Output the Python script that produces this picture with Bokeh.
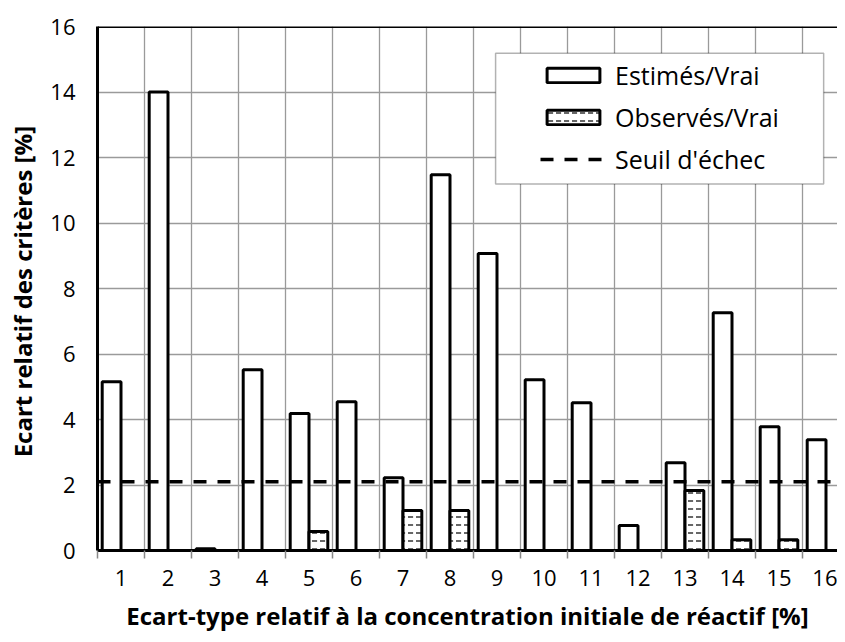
from bokeh.plotting import figure
from bokeh.models import (Range1d, FixedTicker, Legend, LegendItem, BoxAnnotation,
                          Span, ColumnDataSource)
from bokeh.embed import file_html
from bokeh.resources import INLINE

# ---- data ----
categories = list(range(1, 17))
tick_labels = [str(c) for c in categories]
estimes = [5.15, 14.0, 0.05, 5.52, 4.18, 4.54, 2.22, 11.47, 9.07, 5.21, 4.51, 0.76, 2.68, 7.26, 3.78, 3.38]
observes = [0, 0, 0, 0, 0.58, 0, 1.22, 1.22, 0, 0, 0, 0, 1.83, 0.33, 0.33, 0]
seuil = 2.1
series_names = ["Estimés/Vrai", "Observés/Vrai", "Seuil d'échec"]
x_title = "Ecart-type relatif à la concentration initiale de réactif [%]"
y_title = "Ecart relatif des critères  [%]"

FONT = "Open Sans"
W, H = 837, 634
LEFT, TOP, BOTTOM = 97, 26, 83
px_per_cat = 47.0
x_start = categories[0] - 0.5
x_end = x_start + (W - LEFT) / px_per_cat

p = figure(width=W, height=H, output_backend="svg", toolbar_location=None,
           x_range=Range1d(x_start, x_end), y_range=Range1d(0, 16),
           min_border_left=LEFT, min_border_top=TOP, min_border_bottom=BOTTOM,
           min_border_right=0)
p.outline_line_color = None
p.background_fill_color = "white"

off = 0.2
bw = 0.4
src_e = ColumnDataSource(dict(x=[c - off for c in categories], top=estimes))
src_o = ColumnDataSource(dict(x=[c + off for c in categories], top=observes))

r_e = p.vbar(x="x", top="top", width=bw, source=src_e, fill_color="white",
             line_color="black", line_width=3)
r_o = p.vbar(x="x", top="top", width=bw, source=src_o, fill_color="white",
             line_color="black", line_width=3, hatch_pattern="horizontal_dash",
             hatch_color="black", hatch_scale=8, hatch_weight=1.2)
r_s = p.line(x=[x_start, categories[-1] + 0.5], y=[seuil, seuil], line_color="black",
             line_width=3.5, line_dash="13 11")

# axes
boundaries = [c - 0.5 for c in categories] + [categories[-1] + 0.5]
p.xaxis.ticker = FixedTicker(ticks=categories, minor_ticks=boundaries)
p.xaxis.major_label_overrides = {c: l for c, l in zip(categories, tick_labels)}
p.xaxis.major_tick_out = 0
p.xaxis.major_tick_in = 0
p.xaxis.minor_tick_out = 8
p.xaxis.minor_tick_in = 0
p.xaxis.minor_tick_line_color = "#888888"
p.xaxis.minor_tick_line_width = 1.5
p.xaxis.major_label_standoff = 11
p.xaxis.axis_line_color = "black"
p.xaxis.axis_line_width = 3
p.xaxis.axis_label = x_title
p.xaxis.axis_label_standoff = 10

p.yaxis.ticker = FixedTicker(ticks=list(range(0, 17, 2)))
p.yaxis.major_tick_out = 0
p.yaxis.major_tick_in = 0
p.yaxis.minor_tick_out = 0
p.yaxis.minor_tick_in = 0
p.yaxis.major_label_standoff = 22
p.yaxis.axis_line_color = "black"
p.yaxis.axis_line_width = 3
p.yaxis.axis_label = y_title
p.yaxis.axis_label_standoff = 8

for ax in (p.xaxis, p.yaxis):
    ax.major_label_text_font = FONT
    ax.major_label_text_font_size = "22px"
    ax.major_label_text_color = "black"
    ax.axis_label_text_font = FONT
    ax.axis_label_text_font_size = "24px"
    ax.axis_label_text_font_style = "bold"
    ax.axis_label_text_color = "black"

p.xgrid.ticker = FixedTicker(ticks=boundaries)
p.xgrid.grid_line_color = "#9a9a9a"
p.xgrid.grid_line_width = 1.3
p.ygrid.grid_line_color = "#9a9a9a"
p.ygrid.grid_line_width = 1.3

# top border of the plot area
p.add_layout(Span(location=16, dimension="width", line_color="black", line_width=3))

# legend frame (drawn in data units at the upper right)
box = BoxAnnotation(left=8.97, right=15.95, top=15.18, bottom=11.19,
                    fill_color="white", fill_alpha=1, line_color="black", line_width=1.5)
p.add_layout(box)

legend = Legend(items=[LegendItem(label=series_names[0], renderers=[r_e]),
                       LegendItem(label=series_names[1], renderers=[r_o]),
                       LegendItem(label=series_names[2], renderers=[r_s])],
                location=(431, 362), glyph_width=66, glyph_height=18,
                label_standoff=9, spacing=8, padding=12,
                label_text_font=FONT, label_text_font_size="25px",
                label_text_color="black",
                border_line_alpha=0, background_fill_alpha=0)
p.add_layout(legend)

open("out.html", "w").write(file_html(p, INLINE))
